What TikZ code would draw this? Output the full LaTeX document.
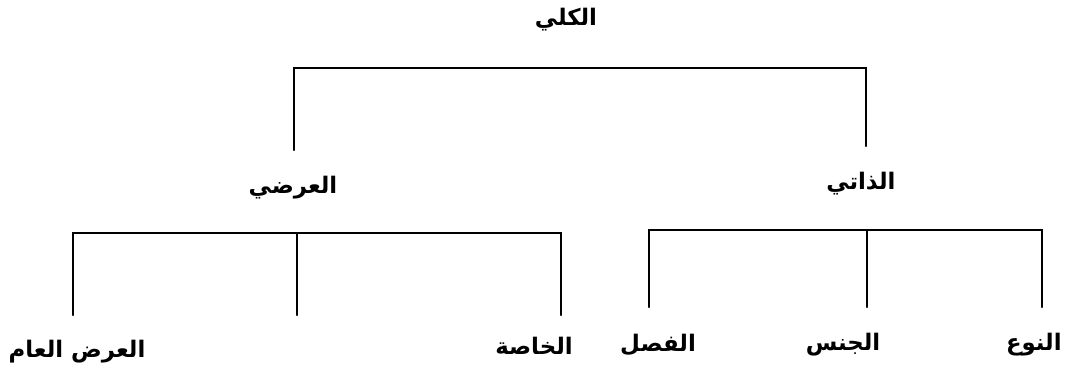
\documentclass[tikz,border=0pt]{standalone}
\usepackage{fontspec}
\newfontfamily\arabicfont[Script=Arabic]{DejaVu Sans}
\TeXXeTstate=1

\begin{document}
\begin{tikzpicture}[x=0.02cm, y=-0.02cm,
        every node/.style={font=\arabicfont\bfseries\fontsize{13}{16}\selectfont, inner sep=0pt},
        branch/.style={line width=1.4pt, line cap=round}]
     \useasboundingbox (0,0) rectangle (1065,375);
     % top level
     \node (kulli) at (566,20) {\beginR الكلي\endR};
     \node (arad) at (293,188) {\beginR العرضي\endR};
     \node (dhati) at (861,184) {\beginR الذاتي\endR};
     % bottom level
     \node (aradAam) at (77,352) {\beginR العرض العام\endR};
     \node (khassa) at (534,346) {\beginR الخاصة\endR};
     \node (fasl) at (658,345) {\beginR الفصل\endR};
     \node (jins) at (843,345) {\beginR الجنس\endR};
     \node[anchor=east] (naw) at (1062,345) {\beginR النوع\endR};
     % bar ends
     \coordinate (kL) at (294,150);
     \coordinate (kBar) at (580,68);
     \coordinate (kR) at (866,146);
     \coordinate (aL) at (73,315);
     \coordinate (aM) at (297,315);
     \coordinate (aR) at (561,315);
     \coordinate (aBar) at (300,233);
     \coordinate (dL) at (649,307);
     \coordinate (dM) at (867,307);
     \coordinate (dR) at (1042,307);
     \coordinate (dBar) at (850,230);
     \draw[branch] (kL) |- (kBar) -| (kR);
     \draw[branch] (aL) |- (aBar) -| (aR);
     \draw[branch] (aM) -- (aM |- aBar);
     \draw[branch] (dL) |- (dBar) -| (dR);
     \draw[branch] (dM) -- (dM |- dBar);
\end{tikzpicture}
\end{document}
